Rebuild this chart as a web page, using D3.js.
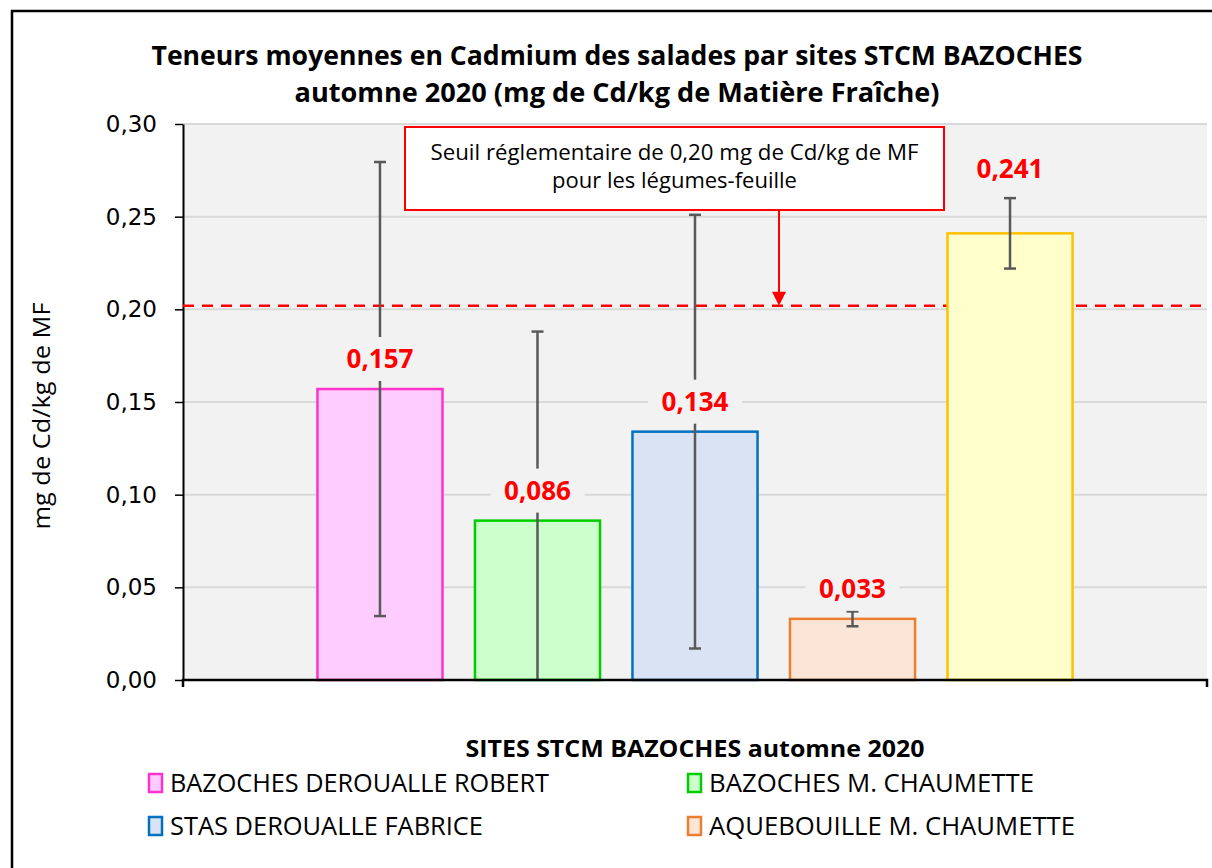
<!DOCTYPE html>
<html>
<head>
<meta charset="utf-8">
<script src="https://d3js.org/d3.v7.min.js"></script>
<style>
  body { margin: 0; background: #fff; }
  svg { display: block; }
</style>
</head>
<body>
<svg id="chart" width="1212" height="868"></svg>
<script>
// --- data ---
var sites = ["BAZOCHES DEROUALLE ROBERT", "BAZOCHES M. CHAUMETTE", "STAS DEROUALLE FABRICE", "AQUEBOUILLE M. CHAUMETTE", null];
var meanValues = [0.157, 0.086, 0.134, 0.033, 0.241];
var errValues = [0.1225, 0.102, 0.117, 0.004, 0.019];
var yTicks = [0, 0.05, 0.10, 0.15, 0.20, 0.25, 0.30];
var thresholdValue = 0.202;
var fillColors = ["#ffccff", "#ccffcc", "#dae3f3", "#fbe5d6", "#ffffcc"];
var strokeColors = ["#ff33cc", "#00cc00", "#0070c0", "#ed7d31", "#ffc000"];
var titleLines = ["Teneurs moyennes en Cadmium  des salades par sites STCM BAZOCHES",
                  "automne 2020 (mg de Cd/kg de Matière Fraîche)"];
var noteLines = ["Seuil réglementaire de 0,20 mg de Cd/kg de MF", "pour les légumes-feuille"];
var yTitle = "mg de Cd/kg de MF";
var legendTitle = "SITES STCM BAZOCHES automne 2020";

(function() {
    var narrow = "'Open Sans', sans-serif";
    var wide = "'DejaVu Sans', sans-serif";

    var svg = d3.select("#chart");
    var pLeft = 183, pRight = 1207, pTop = 124, pBottom = 680;

    var fr = d3.formatLocale({decimal: ",", thousands: " ", grouping: [3], currency: ["", "€"]});
    var fmt3 = fr.format(".3f"), fmt2 = fr.format(".2f");

    var y = d3.scaleLinear().domain([0, 0.30]).range([pBottom, pTop]);
    var x = d3.scaleBand().domain(d3.range(meanValues.length)).range([285, 1105]).padding(0.206);
    var cx = function(i) { return x(i) + x.bandwidth() / 2; };

    function fit(sel, w) {
        var n = sel.node().getComputedTextLength();
        if (Math.abs(n - w) > 2)
            sel.attr("textLength", w).attr("lengthAdjust", "spacingAndGlyphs");
    }

    // outer frame
    svg.append("rect").attr("x", 12).attr("y", 11).attr("width", 1240).attr("height", 900)
        .attr("fill", "none").attr("stroke", "#000").attr("stroke-width", 2.5);

    // title
    titleLines.forEach(function(t, i) {
        var tt = svg.append("text").text(t)
            .attr("x", 617).attr("y", 65 + i * 37)
            .attr("text-anchor", "middle")
            .attr("font-family", narrow).attr("font-weight", "bold").attr("font-size", 26)
            .attr("fill", "#000");
        fit(tt, i == 0 ? 931 : 645);
    });

    // plot background + grid
    svg.append("rect").attr("x", pLeft).attr("y", pTop).attr("width", pRight - pLeft).attr("height", pBottom - pTop)
        .attr("fill", "#f2f2f2");

    svg.append("g").selectAll("line").data(yTicks.slice(1)).enter().append("line")
        .attr("x1", pLeft).attr("x2", pRight)
        .attr("y1", function(d) { return y(d); }).attr("y2", function(d) { return y(d); })
        .attr("stroke", "#d9d9d9").attr("stroke-width", 2);

    // y axis
    var yAxis = svg.append("g")
        .attr("transform", "translate(" + pLeft + ",0)")
        .call(d3.axisLeft(y).tickValues(yTicks).tickFormat(fmt2).tickSizeInner(8).tickSizeOuter(0).tickPadding(18));
    yAxis.select(".domain").attr("stroke", "#000").attr("stroke-width", 2);
    yAxis.selectAll(".tick line").attr("stroke", "#000").attr("stroke-width", 1.5);
    yAxis.selectAll(".tick text").attr("font-family", wide).attr("font-size", 23).attr("fill", "#000");

    var yt = svg.append("text").text(yTitle)
        .attr("transform", "translate(50," + ((pTop + pBottom) / 2 + 14) + ") rotate(-90)")
        .attr("text-anchor", "middle")
        .attr("font-family", "'Open Sans', sans-serif").attr("font-size", 24).attr("fill", "#000");
    fit(yt, 227);

    // threshold line
    svg.append("line")
        .attr("x1", pLeft).attr("x2", pRight)
        .attr("y1", y(thresholdValue)).attr("y2", y(thresholdValue))
        .attr("stroke", "#ff0000").attr("stroke-width", 2.5).attr("stroke-dasharray", "11,8");

    // bars
    svg.append("g").selectAll("rect").data(meanValues).enter().append("rect")
        .attr("x", function(d, i) { return x(i); })
        .attr("y", function(d) { return y(d); })
        .attr("width", x.bandwidth())
        .attr("height", function(d) { return y(0) - y(d); })
        .attr("fill", function(d, i) { return fillColors[i]; })
        .attr("stroke", function(d, i) { return strokeColors[i]; })
        .attr("stroke-width", 2.5);

    // error bars
    var eb = svg.append("g").selectAll("g").data(meanValues).enter().append("g")
        .attr("stroke", "#595959").attr("stroke-width", 2.5);
    eb.append("line")
        .attr("x1", function(d, i) { return cx(i); })
        .attr("x2", function(d, i) { return cx(i); })
        .attr("y1", function(d, i) { return y(d + errValues[i]); })
        .attr("y2", function(d, i) { return y(Math.max(0, d - errValues[i])); });
    eb.append("line")
        .attr("x1", function(d, i) { return cx(i) - 6; })
        .attr("x2", function(d, i) { return cx(i) + 6; })
        .attr("y1", function(d, i) { return y(d + errValues[i]); })
        .attr("y2", function(d, i) { return y(d + errValues[i]); });
    eb.append("line")
        .attr("x1", function(d, i) { return cx(i) - 6; })
        .attr("x2", function(d, i) { return cx(i) + 6; })
        .attr("y1", function(d, i) { return y(d - errValues[i]); })
        .attr("y2", function(d, i) { return y(d - errValues[i]); })
        .attr("display", function(d, i) { return d - errValues[i] > 0 ? null : "none"; });

    // x axis line with end ticks
    svg.append("path")
        .attr("d", "M" + pLeft + "," + (pBottom + 7) + "V" + pBottom + "H" + pRight + "V" + (pBottom + 7))
        .attr("fill", "none").attr("stroke", "#000").attr("stroke-width", 2.5);

    // value labels (with plot-coloured background); above the error bar when over the threshold
    var lab = svg.append("g").selectAll("g").data(meanValues).enter().append("g")
        .attr("transform", function(d, i) {
            var cy = d > thresholdValue ? y(d + errValues[i]) - 29 : y(d) - 30;
            return "translate(" + cx(i) + "," + cy + ")";
        });
    lab.append("rect").attr("x", -47).attr("y", -22).attr("width", 94).attr("height", 44).attr("fill", "#f2f2f2");
    lab.append("text").text(function(d) { return fmt3(d); })
        .attr("text-anchor", "middle").attr("dy", "0.35em")
        .attr("font-family", "'Open Sans', sans-serif").attr("font-weight", "bold").attr("font-size", 26)
        .attr("fill", "#ff0000");

    // annotation box + arrow
    var bx = 405, bw = 539, by = 127, bh = 83, arrowX = 779;
    svg.append("rect").attr("x", bx).attr("y", by).attr("width", bw).attr("height", bh)
        .attr("fill", "#fff").attr("stroke", "#ff0000").attr("stroke-width", 2);
    noteLines.forEach(function(t, i) {
        var nt = svg.append("text").text(t)
            .attr("x", bx + bw / 2).attr("y", by + 33 + i * 28)
            .attr("text-anchor", "middle")
            .attr("font-family", narrow).attr("font-size", 22).attr("fill", "#000");
        fit(nt, i == 0 ? 488 : 244);
    });
    svg.append("line").attr("x1", arrowX).attr("x2", arrowX)
        .attr("y1", by + bh).attr("y2", y(thresholdValue) - 12)
        .attr("stroke", "#ff0000").attr("stroke-width", 2);
    svg.append("path")
        .attr("d", "M" + (arrowX - 7) + "," + (y(thresholdValue) - 14) + "L" + (arrowX + 7) + "," + (y(thresholdValue) - 14) + "L" + arrowX + "," + y(thresholdValue) + "Z")
        .attr("fill", "#ff0000");

    // legend
    var lt = svg.append("text").text(legendTitle)
        .attr("x", (pLeft + pRight) / 2).attr("y", 757)
        .attr("text-anchor", "middle")
        .attr("font-family", narrow).attr("font-weight", "bold").attr("font-size", 24).attr("fill", "#000");
    fit(lt, 459);

    var legendItems = sites.map(function(s, i) { return {name: s, i: i}; }).filter(function(d) { return d.name; });
    var legendWidths = [379, 325, 313, 366];
    var li = svg.append("g").selectAll("g").data(legendItems).enter().append("g")
        .attr("transform", function(d, k) { return "translate(" + (k % 2 == 0 ? 148 : 687) + "," + (773 + Math.floor(k / 2) * 43) + ")"; });
    li.append("rect").attr("x", 1).attr("y", 1).attr("width", 13).attr("height", 18)
        .attr("fill", function(d) { return fillColors[d.i]; })
        .attr("stroke", function(d) { return strokeColors[d.i]; }).attr("stroke-width", 2.5);
    li.append("text").text(function(d) { return d.name; })
        .attr("x", 22).attr("y", 19)
        .attr("font-family", narrow).attr("font-size", 26).attr("fill", "#000")
        .each(function(d, k) { fit(d3.select(this), legendWidths[k]); });
})();
</script>
</body>
</html>
